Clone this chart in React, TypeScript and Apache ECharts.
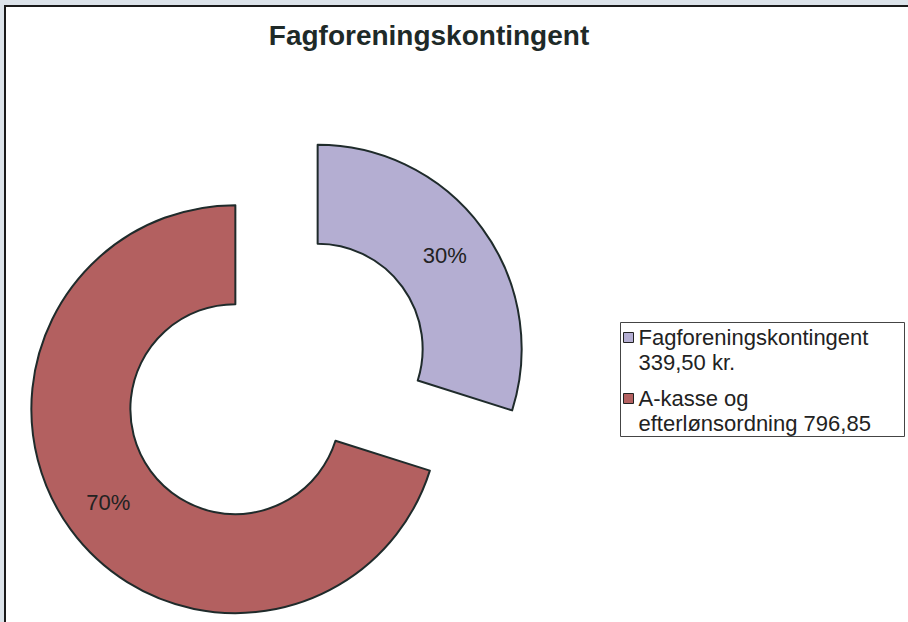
import React, { useEffect, useRef } from "react";
import * as echarts from "echarts";

const titleText = "Fagforeningskontingent";
const categories = ["Fagforeningskontingent", "A-kasse og efterlønsordning"];
const values = [339.5, 796.85];
const legendLabels = ["Fagforeningskontingent\n339,50 kr.", "A-kasse og\nefterlønsordning 796,85"];
const colors = ["#b4aed2", "#b36060"];

export default function App() {
  const ref = useRef<HTMLDivElement>(null);
  useEffect(() => {
    if (!ref.current) return;
    const chart = echarts.init(ref.current, undefined, { renderer: "svg" });
    const total = values.reduce((a, b) => a + b, 0);
    chart.setOption({
      animation: false,
      backgroundColor: "#dce3ea",
      title: {
        text: titleText,
        left: 424,
        textAlign: "center",
        top: 16,
        textStyle: {
          fontFamily: "Liberation Sans, Arial, sans-serif",
          fontSize: 28,
          fontWeight: "bold",
          color: "#1e2a28",
        },
      },
      graphic: [
        {
          type: "rect",
          z: -10,
          shape: { x: 5, y: 6, width: 920, height: 640 },
          style: { fill: "#ffffff", stroke: "#1a1a1a", lineWidth: 2 },
        },
        {
          type: "rect",
          z: -5,
          shape: { x: 620.5, y: 322.5, width: 284, height: 114 },
          style: { fill: "#ffffff", stroke: "#444", lineWidth: 1 },
        },
      ],
      legend: {
        orient: "vertical",
        left: 623,
        top: 324.5,
        padding: 0,
        itemGap: 10,
        itemWidth: 10,
        itemHeight: 50,
        itemStyle: { borderColor: "#222", borderWidth: 1 },
        icon: "path://M0,7.5h10v10h-10z M0,0L0,0 M0,50L0,50",
        data: categories,
        formatter: (name: string) => legendLabels[categories.indexOf(name)],
        textStyle: {
          fontFamily: "Liberation Sans, Arial, sans-serif",
          fontSize: 22,
          lineHeight: 25,
          color: "#222",
        },
        selectedMode: false,
      },
      series: [
        {
          type: "pie",
          center: [276.5, 379],
          radius: [105, 204],
          startAngle: 90,
          clockwise: true,
          selectedMode: "multiple",
          selectedOffset: 51,
          emphasis: { disabled: true },
          itemStyle: { borderColor: "#1f2b2b", borderWidth: 2 },
          label: {
            show: true,
            position: "inside",
            formatter: (p: any) => Math.round((p.value / total) * 100) + "%",
            fontFamily: "Liberation Sans, Arial, sans-serif",
            fontSize: 22,
            color: "#222",
          },
          labelLine: { show: false },
          data: categories.map((c, i) => ({
            name: c,
            value: values[i],
            selected: true,
            itemStyle: { color: colors[i] },
          })),
        },
      ],
    });
    return () => chart.dispose();
  }, []);
  return (
    <div
      ref={ref}
      style={{ position: "fixed", left: 0, top: 0, width: 908, height: 622 }}
    />
  );
}
